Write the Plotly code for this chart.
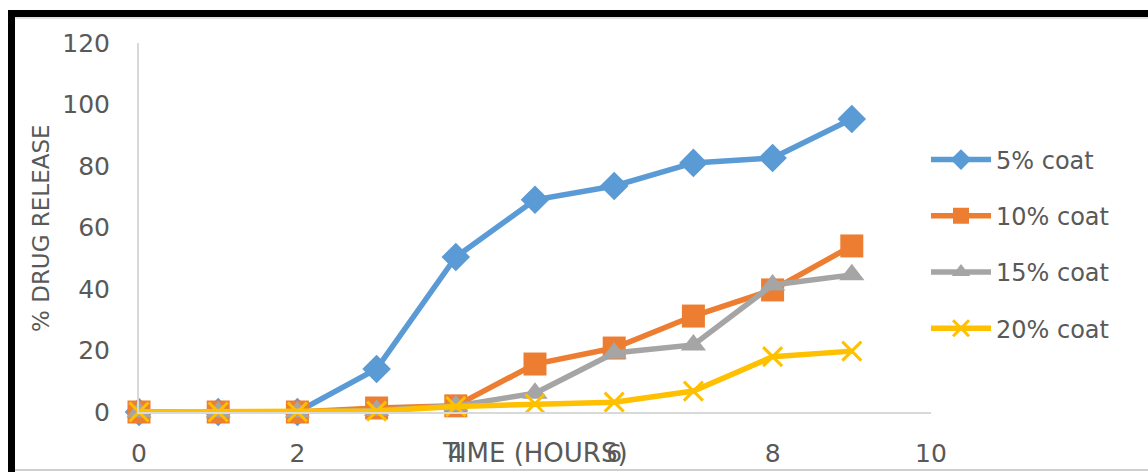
import plotly.graph_objects as go

# Dissolution data: time points (hours) and % drug released per coating level
hours = [0, 1, 2, 3, 4, 5, 6, 7, 8, 9]
coat_5 = [0, 0, 0, 14, 50.4, 69, 73.5, 81, 82.6, 95.3]
coat_10 = [0, 0, 0, 1.3, 2, 15.6, 20.8, 31.2, 39.7, 54]
coat_15 = [0, 0, 0, 0.5, 2, 6.1, 19.2, 21.8, 41.3, 44.6]
coat_20 = [0, 0, 0, 0.3, 1.8, 2.7, 3.2, 6.8, 18, 19.8]

series_names = ["5% coat", "10% coat", "15% coat", "20% coat"]
x_ticks = [0, 2, 4, 6, 8, 10]
y_ticks = [0, 20, 40, 60, 80, 100, 120]

W, H = 1148, 472
L, R, T, B = 139, 217, 43, 60
PW, PH = W - L - R, H - T - B

FONT = "DejaVu Sans"
GREY_TXT = "#595959"


def px(xp):
    return (xp - L) / PW


def py(yp):
    return (H - B - yp) / PH


styles = [
    dict(color="#5B9BD5", symbol="diamond", size=22, lw=0),
    dict(color="#ED7D31", symbol="square", size=23, lw=0),
    dict(color="#A5A5A5", symbol="triangle-up", size=22, lw=0),
    dict(color="#FFC000", symbol="x-thin", size=19, lw=3),
]

fig = go.Figure()
for name, vals, st in zip(series_names, [coat_5, coat_10, coat_15, coat_20], styles):
    fig.add_trace(go.Scatter(
        x=hours, y=vals, name=name, mode="lines+markers",
        legendgroup=name,
        line=dict(color=st["color"], width=5.5),
        marker=dict(symbol=st["symbol"], size=st["size"], color=st["color"],
                    line=dict(width=st["lw"], color=st["color"])),
        cliponaxis=False,
    ))

fig.update_layout(
    width=W, height=H,
    margin=dict(l=L, r=R, t=T, b=B, pad=0, autoexpand=False),
    paper_bgcolor="white", plot_bgcolor="white",
    font=dict(family=FONT, color=GREY_TXT),
    legend=dict(
        x=px(926), xanchor="left", y=py(244), yanchor="middle",
        font=dict(size=24, color=GREY_TXT, family=FONT),
        tracegroupgap=22, itemwidth=60,
        bgcolor="rgba(0,0,0,0)",
    ),
    xaxis=dict(
        range=[0, 10], tickvals=x_ticks, ticktext=[str(v) for v in x_ticks],
        showgrid=False, zeroline=False, showline=True, linecolor="#D9D9D9", linewidth=2,
        ticks="", tickfont=dict(size=25, color=GREY_TXT), ticklabelstandoff=18,
        automargin=False,
    ),
    yaxis=dict(
        range=[0, 120], tickvals=y_ticks,
        showgrid=False, zeroline=False, showline=True, linecolor="#D9D9D9", linewidth=2,
        ticks="", tickfont=dict(size=25, color=GREY_TXT), ticklabelstandoff=22,
        automargin=False,
    ),
    annotations=[
        dict(text="TIME (HOURS)", xref="paper", yref="paper", x=0.5, y=py(453),
             xanchor="center", yanchor="middle", showarrow=False,
             font=dict(size=26, color=GREY_TXT, family=FONT)),
        dict(text="% DRUG RELEASE", xref="paper", yref="paper", x=px(41), y=py(228),
             xanchor="center", yanchor="middle", showarrow=False, textangle=-90,
             font=dict(size=23, color=GREY_TXT, family=FONT)),
    ],
    shapes=[
        # outer frame: thick black top and left edges
        dict(type="line", xref="paper", yref="paper", x0=px(8), x1=px(1160), y0=py(13.5), y1=py(13.5),
             line=dict(color="black", width=7)),
        dict(type="line", xref="paper", yref="paper", x0=px(11.5), x1=px(11.5), y0=py(10), y1=py(480),
             line=dict(color="black", width=7)),
        # thin grey inner edges
        dict(type="line", xref="paper", yref="paper", x0=px(15), x1=px(1160), y0=py(18), y1=py(18),
             line=dict(color="#C8C8C8", width=1)),
        dict(type="line", xref="paper", yref="paper", x0=px(15), x1=px(1160), y0=py(470), y1=py(470),
             line=dict(color="#BFBFBF", width=1.5)),
    ],
)

fig.write_html("out.html")
